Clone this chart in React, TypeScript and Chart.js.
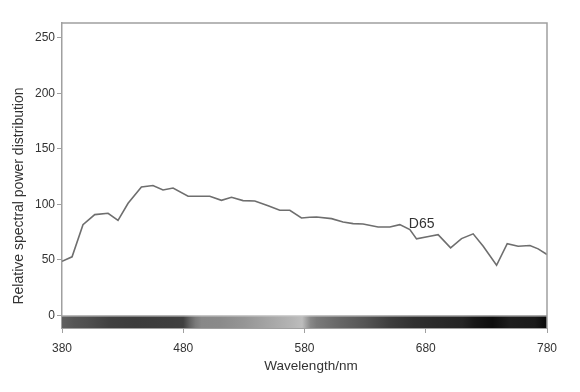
import React, { useEffect, useRef } from "react";
import { Chart, registerables } from "chart.js";

Chart.register(...registerables);

const wavelengths = [
  380, 388.3, 397.3, 407, 418, 426.2, 434.5, 445.5, 455, 463.3, 471.6, 484, 501.9, 511.5, 519.8,
  529.3, 539, 550, 559.6, 567.9, 577.5, 584.4, 589.9, 602.3, 611.8, 620.1, 628.3, 640.7, 650.4,
  658.6, 666.9, 672.4, 683.4, 690.2, 700.5, 709.5, 719.1, 727.4, 738.4, 747.2, 756.2, 765.9,
  772.7, 780,
];
const d65Values = [
  48.8, 52.8, 81.8, 90.8, 92, 85.7, 101, 115.7, 117, 113, 114.8, 107.3, 107.3, 103.7, 106.4,
  103.4, 103.1, 98.9, 94.7, 94.7, 87.8, 88.4, 88.7, 87.2, 84.2, 82.7, 82.4, 79.7, 79.7, 81.8,
  77.3, 69, 71.3, 72.8, 60.9, 69.2, 73.5, 62.3, 45.2, 64.7, 62.3, 63, 60, 54.9,
];
const xTicks = [380, 480, 580, 680, 780];
const yTicks = [0, 50, 100, 150, 200, 250];

// Spectrum bar grey levels (wavelength, grey value 0-255)
const spectrumWavelengths = [380, 390, 400, 410, 420, 440, 470, 480, 485, 490, 495, 510, 530, 550, 570, 578, 585, 590, 610, 630, 650, 670, 690, 710, 720, 735, 750, 770, 780];
const spectrumGrey = [96, 85, 80, 72, 64, 60, 62, 64, 96, 122, 136, 138, 149, 165, 181, 189, 136, 122, 102, 85, 62, 48, 42, 37, 24, 13, 30, 26, 8];

const seriesLabel = "D65";
const labelAt = { x: 666, y: 79 };

const FONT = '"Liberation Sans", Arial, sans-serif';

export default function App() {
  const ref = useRef<HTMLCanvasElement | null>(null);

  useEffect(() => {
    if (!ref.current) return;

    const spectrumPlugin = {
      id: "spectrum",
      beforeDatasetsDraw(chart: any) {
        const { ctx, scales, chartArea } = chart;
        const xs = scales.x;
        const ys = scales.y;
        const x0 = xs.getPixelForValue(380);
        const x1 = xs.getPixelForValue(780);
        const yTop = ys.getPixelForValue(0);
        const yBot = chartArea.bottom;
        const g = ctx.createLinearGradient(x0, 0, x1, 0);
        spectrumWavelengths.forEach((w, i) => {
          const v = spectrumGrey[i];
          g.addColorStop((w - 380) / 400, `rgb(${v},${v},${v})`);
        });
        ctx.save();
        ctx.fillStyle = g;
        ctx.fillRect(x0, yTop, x1 - x0, yBot - yTop);
        ctx.strokeStyle = "#c8c8c8";
        ctx.lineWidth = 1;
        ctx.beginPath();
        ctx.moveTo(x0, yTop + 0.5);
        ctx.lineTo(x1, yTop + 0.5);
        ctx.stroke();
        ctx.restore();
      },
      afterDraw(chart: any) {
        const { ctx, scales, chartArea } = chart;
        ctx.save();
        // frame top & right
        ctx.strokeStyle = "#a0a0a0";
        ctx.lineWidth = 1.5;
        ctx.beginPath();
        ctx.moveTo(chartArea.left, chartArea.top);
        ctx.lineTo(chartArea.right, chartArea.top);
        ctx.lineTo(chartArea.right, chartArea.bottom);
        ctx.stroke();
        // series label
        ctx.fillStyle = "#333";
        ctx.font = `14px ${FONT}`;
        ctx.textAlign = "left";
        ctx.textBaseline = "alphabetic";
        ctx.fillText(seriesLabel, scales.x.getPixelForValue(labelAt.x), scales.y.getPixelForValue(labelAt.y));
        // axis titles
        ctx.font = `13.5px ${FONT}`;
        ctx.textAlign = "center";
        ctx.textBaseline = "middle";
        ctx.fillText("Wavelength/nm", 311, 366);
        ctx.translate(19, 196);
        ctx.rotate(-Math.PI / 2);
        ctx.font = `14px ${FONT}`;
        ctx.fillText("Relative spectral power distribution", 0, 0);
        ctx.restore();
      },
    };

    const chart = new Chart(ref.current, {
      type: "line",
      data: {
        datasets: [
          {
            label: seriesLabel,
            data: wavelengths.map((w, i) => ({ x: w, y: d65Values[i] })),
            borderColor: "#6e6e6e",
            borderWidth: 1.6,
            pointRadius: 0,
            tension: 0,
            fill: false,
          },
        ],
      },
      options: {
        animation: false,
        responsive: false,
        layout: { padding: { top: 23, right: 33, left: 0, bottom: 0 } },
        plugins: { legend: { display: false }, tooltip: { enabled: false } },
        scales: {
          x: {
            type: "linear",
            min: 380,
            max: 780,
            afterBuildTicks: (s: any) => {
              s.ticks = xTicks.map((v) => ({ value: v }));
            },
            afterFit: (s: any) => {
              s.height = 64;
            },
            grid: { drawOnChartArea: false, tickLength: 5, color: "#a0a0a0", lineWidth: 1 },
            border: { color: "#a0a0a0", width: 1 },
            ticks: { color: "#333", font: { size: 12, family: FONT }, padding: 8, maxRotation: 0, autoSkip: false },
          },
          y: {
            type: "linear",
            min: -11.25,
            max: 263.3,
            afterBuildTicks: (s: any) => {
              s.ticks = yTicks.map((v) => ({ value: v }));
            },
            afterFit: (s: any) => {
              s.width = 62;
            },
            grid: { drawOnChartArea: false, tickLength: 5, color: "#a0a0a0", lineWidth: 1 },
            border: { color: "#a0a0a0", width: 1.5 },
            ticks: { color: "#333", font: { size: 12, family: FONT }, padding: 2 },
          },
        },
      },
      plugins: [spectrumPlugin],
    });
    return () => chart.destroy();
  }, []);

  return (
    <div style={{ position: "fixed", left: 0, top: 0, width: 580, height: 392, background: "#fff" }}>
      <canvas ref={ref} width={580} height={392} style={{ width: 580, height: 392, display: "block" }} />
    </div>
  );
}
